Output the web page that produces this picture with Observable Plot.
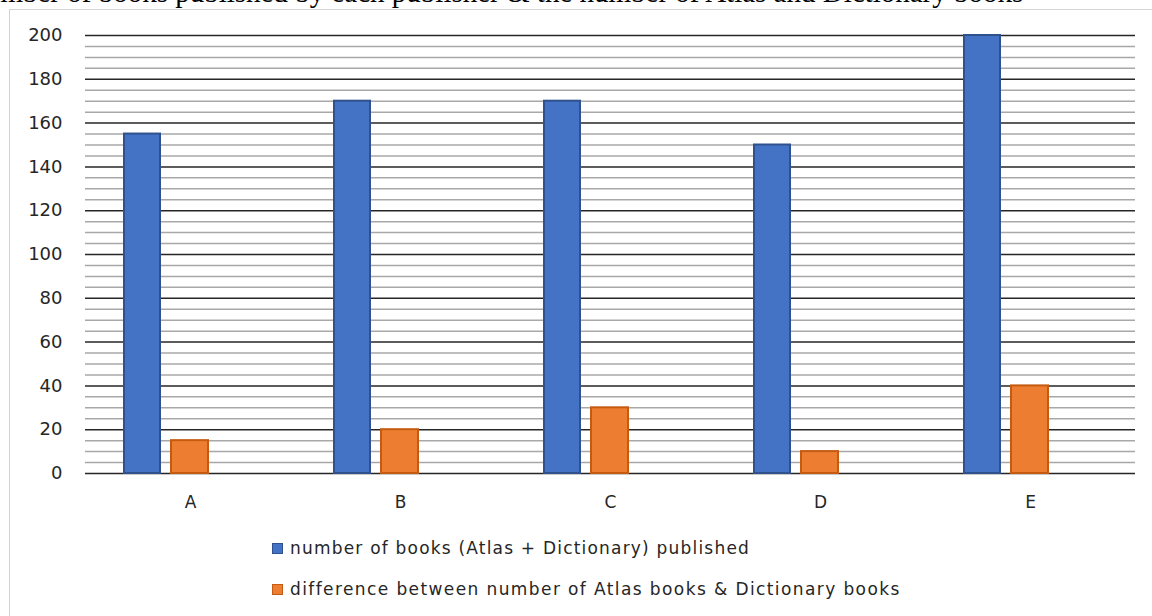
<!DOCTYPE html>
<html><head><meta charset="utf-8">
<script src="https://cdn.jsdelivr.net/npm/d3@7"></script>
<script src="https://cdn.jsdelivr.net/npm/@observablehq/plot@0.6"></script>
<style>
body{margin:0;background:#fff;width:1152px;height:616px;overflow:hidden;position:relative;font-family:"DejaVu Sans",sans-serif}
#title{position:absolute;left:0;top:0;width:1152px;height:10px;overflow:hidden}
#title span{position:absolute;top:-22px;left:-95px;font:29px/29px "Liberation Serif",serif;white-space:nowrap;color:#000}
#frame{position:absolute;left:9px;top:9px;width:1170px;height:640px;border:1.5px solid #d4d4d4;box-sizing:border-box}
#chart{position:absolute;left:0;top:0}
#legend{position:absolute;left:272px;top:536px;font-size:17px;color:#262626}
.item{display:flex;align-items:center;height:24px;margin-bottom:17px;white-space:nowrap}
.sw{width:11px;height:11px;margin-right:7px;box-sizing:border-box;border:1.5px solid}
</style></head>
<body>
<div id="title"><span>Total number of books published by each publisher &amp; the number of Atlas and Dictionary books</span></div>
<div id="frame"></div>
<div id="chart"></div>
<div id="legend"></div>
<script>
const publishers = ["A", "B", "C", "D", "E"];
const totalBooks = [155, 170, 170, 150, 200];
const differenceBooks = [15, 20, 30, 10, 40];
const seriesNames = [
  "number of books (Atlas + Dictionary) published",
  "difference between number of Atlas books & Dictionary books"
];
const seriesSpacing = ["1.2px", "1.4px"];
const seriesColors = ["#4472C4", "#ED7D31"];
const seriesStrokes = ["#2F528F", "#C55A11"];
const yTicks = [0, 20, 40, 60, 80, 100, 120, 140, 160, 180, 200];
const minorTicks = d3.range(0, 201, 5).filter(v => v % 20 !== 0);

const rows = publishers.map((p, i) => ({publisher: p, total: totalBooks[i], diff: differenceBooks[i]}));

const chart = Plot.plot({
  width: 1152, height: 520,
  marginLeft: 85, marginRight: 17, marginTop: 35, marginBottom: 47,
  x: {domain: publishers, padding: 0},
  y: {domain: [0, 200]},
  style: {fontFamily: "DejaVu Sans", color: "#262626", background: "transparent"},
  marks: [
    Plot.ruleY(minorTicks, {stroke: "#a8a8a8", strokeWidth: 1.5}),
    Plot.ruleY(yTicks, {stroke: "#262626", strokeWidth: 1.5}),
    Plot.barY(rows, {x: "publisher", y: "total", fill: seriesColors[0], stroke: seriesStrokes[0], strokeWidth: 2, insetLeft: 39, insetRight: 135}),
    Plot.barY(rows, {x: "publisher", y: "diff", fill: seriesColors[1], stroke: seriesStrokes[1], strokeWidth: 2, insetLeft: 86, insetRight: 87}),
    Plot.axisX({tickSize: 0, tickPadding: 22, label: null, fontSize: 17}),
    Plot.axisY({ticks: yTicks, tickSize: 0, tickPadding: 23, label: null, fontSize: 18})
  ]
});
document.getElementById("chart").append(chart);

const legend = document.getElementById("legend");
seriesNames.forEach((name, i) => {
  const item = document.createElement("div");
  item.className = "item";
  const sw = document.createElement("span");
  sw.className = "sw";
  sw.style.background = seriesColors[i];
  sw.style.borderColor = seriesStrokes[i];
  const t = document.createElement("span");
  t.textContent = name;
  t.style.letterSpacing = seriesSpacing[i];
  item.append(sw, t);
  legend.append(item);
});
</script>
</body></html>
